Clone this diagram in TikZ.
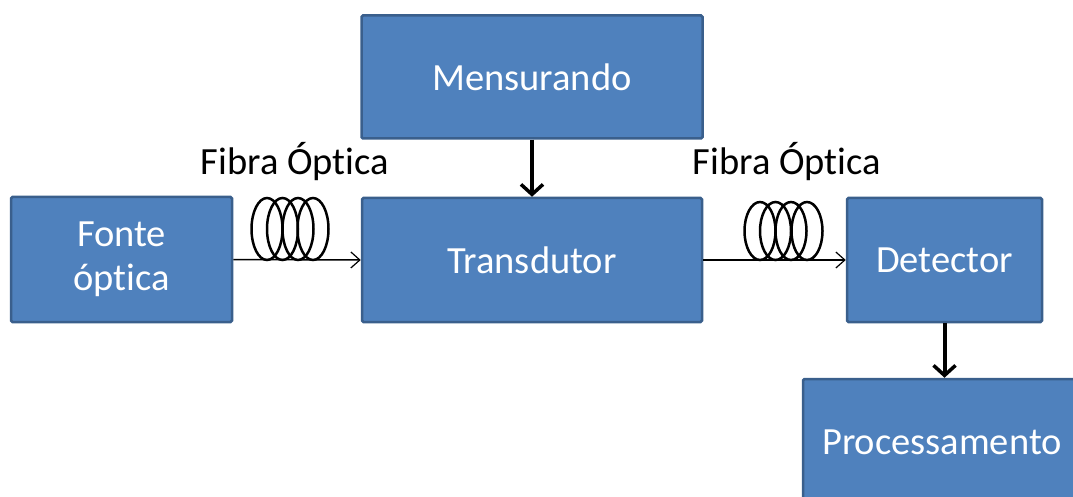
\documentclass[tikz,border=0pt]{standalone}
\usepackage{fontspec}
\setmainfont[Ligatures=NoCommon]{Carlito}
\usetikzlibrary{arrows.meta}
\definecolor{boxfill}{HTML}{4F81BD}
\definecolor{boxline}{HTML}{3A5F8C}
\begin{document}
\begin{tikzpicture}[x=1pt,y=1pt,
    bloco/.style={draw=boxline,fill=boxfill,line width=2.5pt,rounded corners=1.5pt,
        text=white,inner sep=0pt,align=center,font=\fontsize{38.5}{44}\selectfont},
    seta/.style={line width=4pt,-{Straight Barb[length=10pt,width=22pt,line width=3.5pt]}},
    fibra/.style={line width=1.5pt,-{Straight Barb[length=9pt,width=16pt,line width=1.2pt]}},
    rotulo/.style={font=\fontsize{38.5}{44}\selectfont}]
\useasboundingbox (0,0) rectangle (1073,-497);
% blocos
\node[bloco,minimum width=221,minimum height=125] (fonte) at (121.5,-259.5) {Fonte\\óptica};
\node[bloco,minimum width=341,minimum height=123] (mens) at (532,-77) {Mensurando};
\node[bloco,minimum width=340,minimum height=124] (trans) at (532,-260) {Transdutor};
\node[bloco,minimum width=195,minimum height=124] (det) at (944.5,-260) {Detector};
\node[bloco,minimum width=278,minimum height=127] (proc) at (942,-442.5) {Processamento};
% setas grossas
\draw[seta] (mens.south) -- (trans.north);
\draw[seta] (det.south) -- (det.south |- proc.north);
% fibras
\draw[fibra] (fonte.east) -- (trans.west);
\draw[fibra] (trans.east) -- (det.west);
\foreach \x in {267,282.5,298,313}
  \draw[line width=2.5pt] (\x,-229) ellipse (15.5pt and 31pt);
\foreach \x in {760,775.5,791,807}
  \draw[line width=2.5pt] (\x,-231) ellipse (15.5pt and 29pt);
\node[rotulo] (fib1) at (295,-162) {Fibra Óptica};
\node[rotulo] (fib2) at (787,-162) {Fibra Óptica};
\end{tikzpicture}
\end{document}
